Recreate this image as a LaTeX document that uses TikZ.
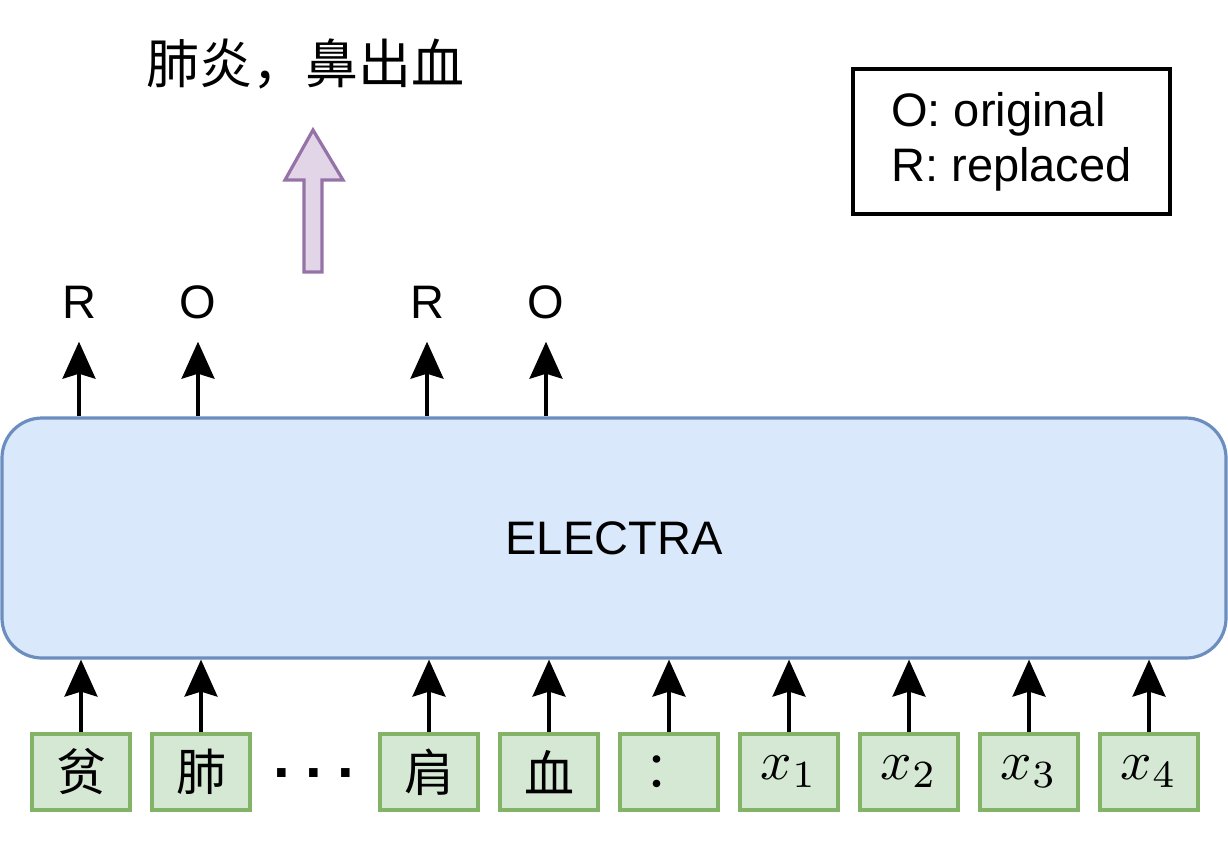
\documentclass[tikz,border=0pt]{standalone}
\usepackage{fontspec}
\setmainfont{Liberation Sans}
\newfontfamily\cjk{Noto Sans CJK SC}
\usetikzlibrary{arrows.meta}

\definecolor{elfill}{HTML}{DAE8FC}
\definecolor{elline}{HTML}{6C8EBF}
\definecolor{tokfill}{HTML}{D5E8D4}
\definecolor{tokline}{HTML}{82B366}
\definecolor{ansfill}{HTML}{E1D5E7}
\definecolor{ansline}{HTML}{9673A6}

\newcommand{\tokmath}[1]{\scalebox{5.5}{\normalsize$#1$}}

\begin{document}
\begin{tikzpicture}[x=1pt,y=-1pt,
  tok/.style={draw=tokline,fill=tokfill,line width=3.2pt,minimum width=98pt,minimum height=76pt,inner sep=0pt,font=\fontsize{50}{50}\selectfont\cjk},
  lab/.style={inner xsep=0pt,inner ysep=23pt,text height=33pt,text depth=0pt,font=\fontsize{47}{47}\selectfont},
  up/.style={-{Stealth[length=37pt,width=33pt,inset=5pt]},line width=3.2pt}]
  \useasboundingbox (0,0) rectangle (1228,852);

  % input tokens
  \node[tok] (t1) at (81,772) {贫};
  \node[tok] (t2) at (201,772) {肺};
  \node[font=\fontsize{60}{60}\selectfont\bfseries] (dots) at (314,773) {.\hspace{15.3pt}.\hspace{15.3pt}.};
  \node[tok] (t3) at (429,772) {肩};
  \node[tok] (t4) at (549,772) {血};
  \node[tok] (t5) at (669,772) {：};
  \node[tok] (t6) at (789,772) {\tokmath{x_1}};
  \node[tok] (t7) at (909,772) {\tokmath{x_2}};
  \node[tok] (t8) at (1029,772) {\tokmath{x_3}};
  \node[tok] (t9) at (1149,772) {\tokmath{x_4}};

  % discriminator
  \node[draw=elline,fill=elfill,line width=3.2pt,rounded corners=40pt,minimum width=1224pt,minimum height=240pt,font=\fontsize{47}{47}\selectfont] (electra) at (614,538) {ELECTRA};

  \foreach \t in {t1,t2,t3,t4,t5,t6,t7,t8,t9}
    \draw[up] (\t.north) -- (\t.north |- electra.south);

  % outputs
  \node[lab] (o1) at (79,302) {R};
  \node[lab] (o2) at (198,302) {O};
  \node[lab] (o3) at (427,302) {R};
  \node[lab] (o4) at (546,302) {O};

  \foreach \o in {o1,o2,o3,o4}
    \draw[up] (\o.south |- electra.north) -- (\o.south);

  % answer
  \node[font=\fontsize{53}{53}\selectfont\cjk] (answer) at (305,64) {肺炎，鼻出血};
  \draw[draw=ansline,fill=ansfill,line width=3.2pt,line join=miter]
    (304,272) -- (322,272) -- (322,180) -- (343,180) -- (313,130)
    -- (285,180) -- (304,180) -- cycle;

  % legend
  \node[draw,line width=3.2pt,minimum width=317pt,minimum height=145pt,align=left,font=\fontsize{47}{55}\selectfont] (legend) at (1011.5,141.5) {O: original\\R: replaced};
\end{tikzpicture}
\end{document}
